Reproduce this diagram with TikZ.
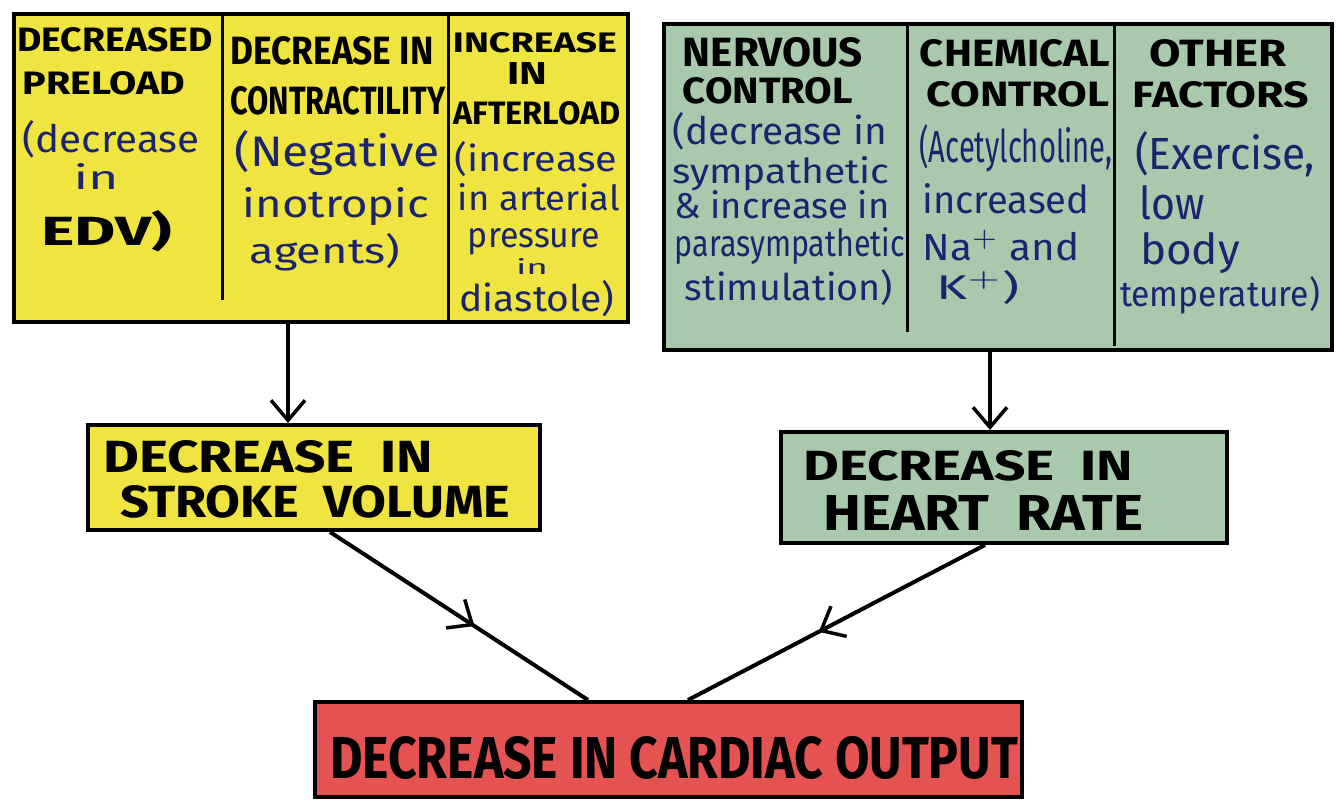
\documentclass[tikz,border=0pt]{standalone}
\usepackage{fontspec}
\usepackage{graphicx}
\setmainfont{Fira Sans}
\usetikzlibrary{arrows.meta,decorations.markings}
\definecolor{yelc}{HTML}{F0E540}
\definecolor{grnc}{HTML}{A9C9AD}
\definecolor{redc}{HTML}{E45252}
\definecolor{inkblue}{HTML}{1C2470}
\newcommand\fitwh[3]{\resizebox{#1pt}{#2pt}{#3}}
\begin{document}
\begin{tikzpicture}[x=1pt,y=-1pt,
  frame/.style={draw=black, line width=4pt, inner sep=0pt},
  divider/.style={line width=3pt},
  hd/.style={anchor=base, inner sep=0pt, font=\bfseries},
  bl/.style={anchor=base, inner sep=0pt, text=inkblue},
  big/.style={anchor=base west, inner sep=0pt, font=\bfseries},
  conn/.style={line width=4pt, -{Straight Barb[length=20pt,width=34pt,line width=3.5pt]}},
  midconn/.style={line width=4pt, postaction={decorate}, decoration={markings,
     mark=at position 0.56 with {\arrow{Straight Barb[length=20pt,width=34pt,line width=3.5pt]}}}}
]
\useasboundingbox (0,0) rectangle (1336,805);
% top boxes
\node[frame, fill=yelc, minimum width=614pt, minimum height=308pt] (Y) at (321,168) {};
\node[frame, fill=grnc, minimum width=668pt, minimum height=326pt] (G) at (998,187) {};
\draw[divider] (222,16) -- (222,300);
\draw[divider] (448,16) -- (448,320);
\draw[divider] (907,26) -- (907,332);
\draw[divider] (1114,26) -- (1114,346);
% column 1
\node[hd] (c1a) at (115,52) {\fitwh{195}{24}{DECREASED}};
\node[hd] (c1b) at (104,95) {\fitwh{163}{23}{PRELOAD}};
\node[bl] (c1c) at (111,153) {\fitwh{177}{32}{(decrease}};
\node[bl] (c1d) at (96,190) {\fitwh{45}{26}{in}};
\node[hd] (c1e) at (107,245) {\fitwh{131}{35}{EDV)}};
% column 2
\node[hd] (c2a) at (332,65) {\fitwh{203}{28}{DECREASE IN}};
\node[hd] (c2b) at (338,115) {\fitwh{215}{28}{CONTRACTILITY}};
\node[bl] (c2c) at (337,167) {\fitwh{205}{36}{(Negative}};
\node[bl] (c2d) at (336,218) {\fitwh{187}{30}{inotropic}};
\node[bl] (c2e) at (325,263) {\fitwh{150}{30}{agents)}};
% column 3
\node[hd] (c3a) at (535,53) {\fitwh{164}{20}{INCREASE}};
\node[hd] (c3b) at (527,85) {\fitwh{40}{22}{IN}};
\node[hd] (c3c) at (537,125) {\fitwh{167}{23}{AFTERLOAD}};
\node[bl] (c3d) at (536,172) {\fitwh{163}{30}{(increase}};
\node[bl] (c3e) at (539,211) {\fitwh{162}{27}{in arterial}};
\node[bl] (c3f) at (534,247) {\fitwh{132}{19}{pressure}};
\node[bl] (c3g) at (532,275) {\fitwh{32}{16}{in}};
\node[bl] (c3h) at (537,311) {\fitwh{155}{31}{diastole)}};
% column 4
\node[hd] (c4a) at (773,67) {\fitwh{180}{29}{NERVOUS}};
\node[hd] (c4b) at (768,104) {\fitwh{170}{26}{CONTROL}};
\node[bl] (c4c) at (780,145) {\fitwh{214}{32}{(decrease in}};
\node[bl] (c4d) at (781,184) {\fitwh{217}{27}{sympathetic}};
\node[bl] (c4e) at (782,219) {\fitwh{215}{28}{\& increase in}};
\node[bl] (c4f) at (790,257) {\fitwh{230}{29}{parasympathetic}};
\node[bl] (c4g) at (789,300) {\fitwh{208}{31}{stimulation)}};
% column 5
\node[hd] (c5a) at (1015,67) {\fitwh{190}{27}{CHEMICAL}};
\node[hd] (c5b) at (1018,107) {\fitwh{183}{25}{CONTROL}};
\node[bl] (c5c) at (1016,163) {\fitwh{193}{38}{(Acetylcholine,}};
\node[bl] (c5d) at (1006,214) {\fitwh{167}{30}{increased}};
\node[bl] (c5e) at (1001,260) {\fitwh{157}{30}{Na$^{+}$ and}};
\node[bl] (c5f) at (978,299) {\fitwh{83}{29}{K$^{+}$)}};
% column 6
\node[hd] (c6a) at (1218,67) {\fitwh{137}{27}{OTHER}};
\node[hd] (c6b) at (1221,108) {\fitwh{177}{26}{FACTORS}};
\node[bl] (c6c) at (1225,170) {\fitwh{180}{38}{(Exercise,}};
\node[bl] (c6d) at (1172,220) {\fitwh{65}{34}{low}};
\node[bl] (c6e) at (1190,264) {\fitwh{100}{32}{body}};
\node[bl] (c6f) at (1220,306) {\fitwh{200}{30}{temperature)}};
% middle boxes
\node[frame, fill=yelc, minimum width=452pt, minimum height=105pt] (SV) at (314,477.5) {};
\node[big] (sv1) at (103,472) {\fitwh{330}{32}{DECREASE\ \ IN}};
\node[big] (sv2) at (120,517) {\fitwh{390}{32}{STROKE\ \ VOLUME}};
\node[frame, fill=grnc, minimum width=446pt, minimum height=111pt] (HR) at (1004,487.5) {};
\node[big] (hr1) at (803,480) {\fitwh{330}{30}{DECREASE\ \ IN}};
\node[big] (hr2) at (823,530) {\fitwh{320}{35}{HEART\ \ RATE}};
% bottom box
\node[frame, fill=redc, minimum width=707pt, minimum height=95pt] (CO) at (668.5,749.5) {};
\node[big] (cot) at (330,778) {\fitwh{688}{42}{DECREASE IN CARDIAC OUTPUT}};
% connectors
\coordinate (ya) at (288,0);
\coordinate (ga) at (990,0);
\draw[conn] (Y.south -| ya) -- (SV.north -| ya);
\draw[conn] (G.south -| ga) -- (HR.north -| ga);
\coordinate (s1) at (330,0);
\coordinate (c1) at (588,0);
\coordinate (s2) at (985,0);
\coordinate (c2) at (688,0);
\draw[midconn] (SV.south -| s1) -- (CO.north -| c1);
\draw[midconn] (HR.south -| s2) -- (CO.north -| c2);
\end{tikzpicture}
\end{document}
